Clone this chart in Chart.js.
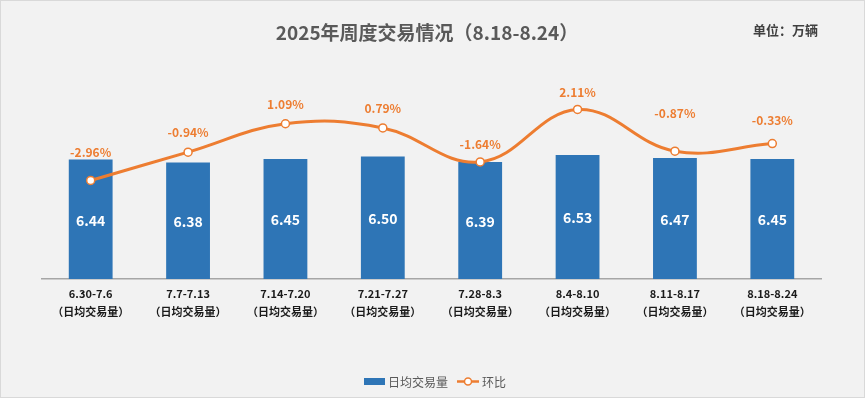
<!DOCTYPE html>
<html>
<head>
<meta charset="utf-8">
<script src="https://cdn.jsdelivr.net/npm/chart.js@4.4.1/dist/chart.umd.min.js"></script>
<style>
html,body{margin:0;padding:0;background:#f2f2f2;}
#wrap{position:relative;width:865px;height:398px;box-sizing:border-box;border:1px solid #d9d9d9;background:#f2f2f2;}
canvas{display:block;}
</style>
</head>
<body>
<div id="wrap"><canvas id="c" width="863" height="396"></canvas></div>
<script>
// ---- data ----
const weeks = ["6.30-7.6","7.7-7.13","7.14-7.20","7.21-7.27","7.28-8.3","8.4-8.10","8.11-8.17","8.18-8.24"];
const subLabel = "（日均交易量）";
const dailyVolume = [6.44, 6.38, 6.45, 6.50, 6.39, 6.53, 6.47, 6.45];
const momChange = [-2.96, -0.94, 1.09, 0.79, -1.64, 2.11, -0.87, -0.33];
const titleText = "2025年周度交易情况（8.18-8.24）";
const unitText = "单位：万辆";
const barName = "日均交易量";
const lineName = "环比";
// label offsets above points (styling)
const lineLabelOffsets = [28, 20, 19, 20, 18, 17, 38, 23];

const BLUE = "#2e75b6", ORANGE = "#ed7d31";
const FONT = "'Noto Sans CJK SC','Noto Sans',sans-serif";

const labelPlugin = {
  id: 'labels',
  afterDatasetsDraw(chart) {
    const ctx = chart.ctx;
    const bottom = chart.chartArea.bottom;
    ctx.save();
    // bar labels
    const barMeta = chart.getDatasetMeta(1);
    ctx.font = "bold 14px " + FONT;
    ctx.fillStyle = "#ffffff";
    ctx.textAlign = "center";
    ctx.textBaseline = "middle";
    barMeta.data.forEach((el, i) => {
      const mid = (el.y + bottom) / 2;
      ctx.fillText(dailyVolume[i].toFixed(2), el.x, mid + 1);
    });
    // line labels
    const lineMeta = chart.getDatasetMeta(0);
    ctx.font = "bold 12px " + FONT;
    ctx.fillStyle = ORANGE;
    lineMeta.data.forEach((el, i) => {
      ctx.fillText(momChange[i].toFixed(2) + "%", el.x, el.y - lineLabelOffsets[i]);
    });
    ctx.restore();
  },
  afterDraw(chart) {
    const ctx = chart.ctx;
    ctx.save();
    ctx.textBaseline = "middle";
    // title
    ctx.font = "bold 19px " + FONT;
    ctx.fillStyle = "#595959";
    ctx.textAlign = "center";
    ctx.fillText(titleText, 426, 32);
    // unit
    ctx.font = "bold 13px " + FONT;
    ctx.fillStyle = "#404040";
    ctx.textAlign = "left";
    ctx.fillText(unitText, 752, 29);
    // legend
    ctx.font = "12px " + FONT;
    ctx.fillStyle = BLUE;
    ctx.fillRect(363, 377, 21, 7);
    ctx.fillStyle = "#595959";
    ctx.fillText(barName, 387, 381);
    ctx.strokeStyle = ORANGE;
    ctx.lineWidth = 2.5;
    ctx.beginPath(); ctx.moveTo(456, 380.5); ctx.lineTo(478, 380.5); ctx.stroke();
    ctx.beginPath(); ctx.arc(467, 380.5, 3.5, 0, Math.PI*2);
    ctx.fillStyle = "#fff"; ctx.fill(); ctx.lineWidth = 1.5; ctx.stroke();
    ctx.fillStyle = "#595959";
    ctx.fillText(lineName, 481, 381);
    ctx.restore();
  }
};

new Chart(document.getElementById('c'), {
  data: {
    labels: weeks.map(w => [w, subLabel]),
    datasets: [
      {
        type: 'line', label: lineName, data: momChange, yAxisID: 'y2',
        borderColor: ORANGE, borderWidth: 3, tension: 0.4,
        pointRadius: 4, pointBackgroundColor: '#ffffff', pointBorderColor: ORANGE, pointBorderWidth: 1.5,
        order: 0
      },
      {
        type: 'bar', label: barName, data: dailyVolume, yAxisID: 'y',
        backgroundColor: BLUE, barPercentage: 0.45, categoryPercentage: 1.0,
        order: 1
      }
    ]
  },
  options: {
    responsive: false, animation: false,
    layout: { padding: { left: 41, right: 43, top: 82, bottom: 0 } },
    plugins: { legend: { display: false }, title: { display: false }, tooltip: { enabled: false } },
    scales: {
      x: {
        grid: { display: false, drawTicks: false },
        border: { display: true, color: '#a6a6a6', width: 1.5 },
        ticks: { color: '#1a1a1a', font: { family: FONT, size: 11, weight: 'bold', lineHeight: 1.7 }, padding: 5, maxRotation: 0, autoSkip: false },
        afterFit: s => { s.height = 118; }
      },
      y: { display: false, min: 4, max: 8 },
      y2: { display: false, min: -10, max: 4, position: 'right' }
    }
  },
  plugins: [labelPlugin]
});
</script>
</body>
</html>
